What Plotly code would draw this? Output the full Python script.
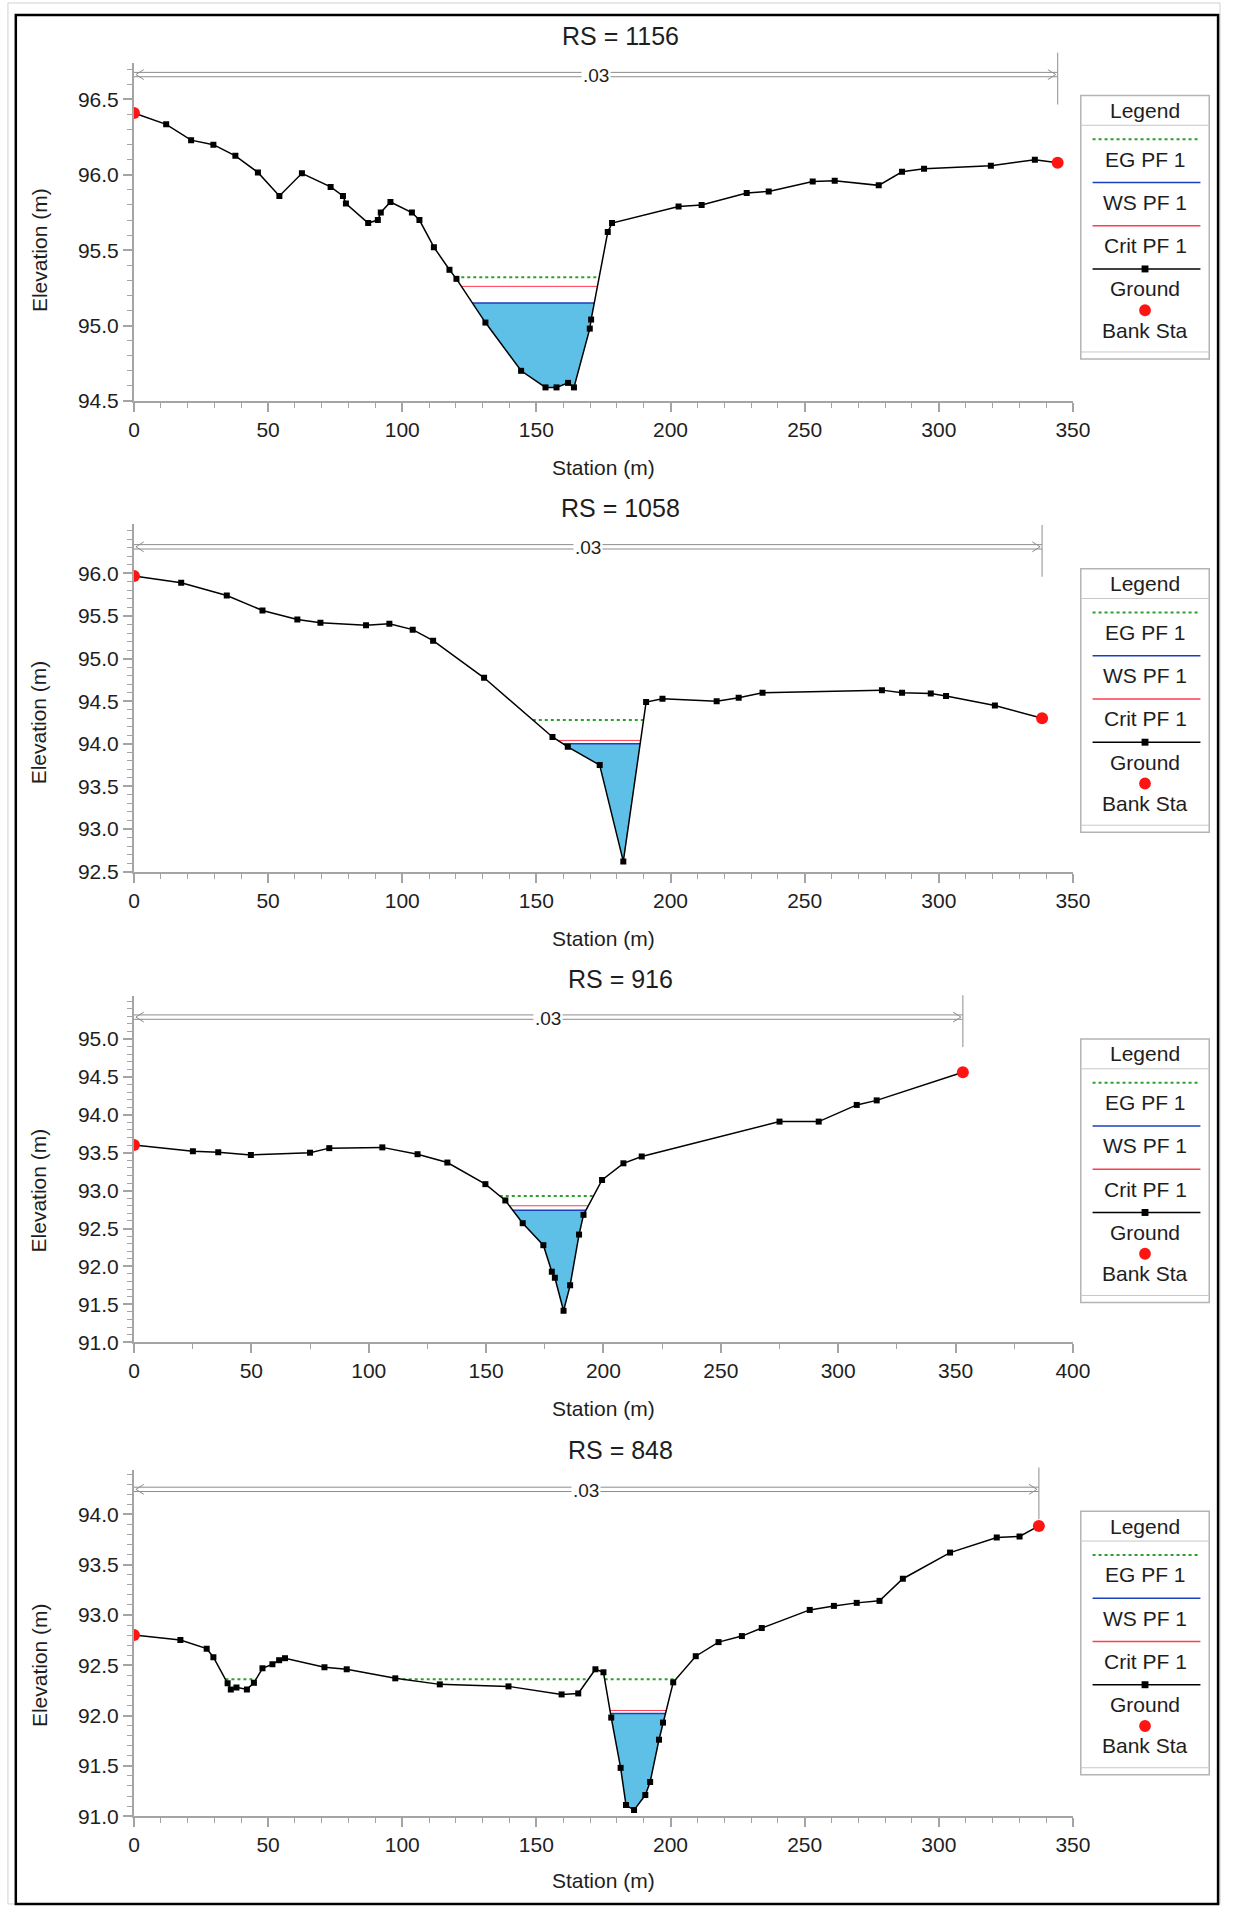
import plotly.graph_objects as go
import numpy as np

W, H = 1240, 1907
FONT = "Liberation Sans, Arial, sans-serif"
TXT = "#1e1e1e"
AX = "#a4a4a4"

# ---------------- data ----------------
rs_titles = ["RS = 1156", "RS = 1058", "RS = 916", "RS = 848"]

sta_1156 = [0, 12.0, 21.3, 29.6, 37.8, 46.2, 54.2, 62.6, 73.3, 77.9,
            79.0, 87.3, 90.9, 92.0, 95.6, 103.6, 106.4, 111.8, 117.6, 120.2,
            131.0, 144.3, 153.4, 157.5, 161.8, 164.0, 169.9, 170.4, 176.6, 178.2,
            203.0, 211.6, 228.4, 236.6, 253.0, 261.2, 277.6, 286.3, 294.5, 319.4,
            335.8, 344.3]
elev_1156 = [96.41, 96.335, 96.23, 96.20, 96.126, 96.016, 95.86, 96.01, 95.92, 95.86,
             95.81, 95.68, 95.70, 95.75, 95.82, 95.75, 95.70, 95.52, 95.37, 95.31,
             95.02, 94.70, 94.59, 94.59, 94.62, 94.59, 94.98, 95.04, 95.62, 95.68,
             95.79, 95.80, 95.88, 95.89, 95.955, 95.96, 95.93, 96.02, 96.04, 96.06,
             96.10, 96.08]

sta_1058 = [0, 17.6, 34.6, 47.9, 60.9, 69.5, 86.5, 95.2, 103.9, 111.5,
            130.5, 156.0, 161.7, 173.6, 182.4, 190.9, 197.0, 217.2, 225.4, 234.3,
            278.8, 286.3, 297.0, 302.7, 320.9, 338.5]
elev_1058 = [95.97, 95.89, 95.74, 95.565, 95.46, 95.42, 95.39, 95.41, 95.34, 95.21,
             94.775, 94.08, 93.965, 93.75, 92.62, 94.49, 94.53, 94.50, 94.54, 94.60,
             94.63, 94.60, 94.59, 94.56, 94.45, 94.30]

sta_916 = [0, 25.1, 35.9, 49.8, 75.0, 83.2, 105.8, 120.8, 133.5, 149.7,
           158.2, 165.6, 174.4, 178.0, 179.3, 183.0, 185.8, 189.6, 191.5, 199.4,
           208.5, 216.3, 275.0, 291.7, 307.9, 316.4, 353.1]
elev_916 = [93.60, 93.52, 93.505, 93.47, 93.50, 93.56, 93.57, 93.48, 93.37, 93.085,
            92.87, 92.57, 92.28, 91.93, 91.85, 91.415, 91.75, 92.42, 92.68, 93.14,
            93.36, 93.45, 93.91, 93.91, 94.13, 94.19, 94.56]

sta_848 = [0, 17.3, 27.1, 29.6, 34.9, 36.1, 38.2, 42.1, 44.7, 47.9,
           51.6, 54.1, 56.3, 71.0, 79.3, 97.4, 114.0, 139.6, 159.4, 165.6,
           172.0, 175.0, 177.9, 181.4, 183.4, 186.4, 190.6, 192.4, 195.7, 197.2,
           201.0, 209.4, 217.9, 226.6, 234.0, 251.9, 260.9, 269.4, 277.9, 286.6,
           304.2, 321.6, 330.1, 337.3]
elev_848 = [92.80, 92.75, 92.665, 92.58, 92.32, 92.26, 92.28, 92.26, 92.325, 92.47,
            92.51, 92.55, 92.57, 92.48, 92.46, 92.37, 92.31, 92.29, 92.21, 92.22,
            92.46, 92.43, 91.98, 91.48, 91.11, 91.06, 91.21, 91.34, 91.76, 91.93,
            92.33, 92.59, 92.73, 92.79, 92.87, 93.05, 93.09, 93.12, 93.14, 93.36,
            93.62, 93.77, 93.78, 93.885]

bank_1156 = [0, 344.3]
bank_1058 = [0, 338.5]
bank_916 = [0, 353.1]
bank_848 = [0, 337.3]

ws_levels = [95.15, 94.00, 92.74, 92.02]
eg_levels = [95.32, 94.28, 92.93, 92.36]
crit_levels = [95.26, 94.04, 92.80, 92.05]
mann_n = [0.03, 0.03, 0.03, 0.03]

x_ticks_350 = [0, 50, 100, 150, 200, 250, 300, 350]
x_ticks_400 = [0, 50, 100, 150, 200, 250, 300, 350, 400]
y_ticks_1156 = [94.5, 95.0, 95.5, 96.0, 96.5]
y_ticks_1058 = [92.5, 93.0, 93.5, 94.0, 94.5, 95.0, 95.5, 96.0]
y_ticks_916 = [91.0, 91.5, 92.0, 92.5, 93.0, 93.5, 94.0, 94.5, 95.0]
y_ticks_848 = [91.0, 91.5, 92.0, 92.5, 93.0, 93.5, 94.0]

legend_labels = ["EG PF 1", "WS PF 1", "Crit PF 1", "Ground", "Bank Sta"]

stations = [sta_1156, sta_1058, sta_916, sta_848]
elevs = [elev_1156, elev_1058, elev_916, elev_848]
banks = [bank_1156, bank_1058, bank_916, bank_848]
xticks = [x_ticks_350, x_ticks_350, x_ticks_400, x_ticks_350]
yticks = [y_ticks_1156, y_ticks_1058, y_ticks_916, y_ticks_848]

# ---------------- layout (pixel geometry) ----------------
X0, X1 = 130.5, 1088.0
panels = [
    dict(top=63, bottom=403.3, ymin=94.5, ymax=96.744, xmax=350, xminor=10,
         bar=75, title_y=36.5, station_y=470, legend_top=96),
    dict(top=527, bottom=876.7, ymin=92.5, ymax=96.58, xmax=350, xminor=10,
         bar=550, title_y=511, station_y=944, legend_top=572),
    dict(top=1001.7, bottom=1350, ymin=91.0, ymax=95.568, xmax=400, xminor=25,
         bar=1023, title_y=985, station_y=1416.5, legend_top=1045),
    dict(top=1478.3, bottom=1826.7, ymin=91.0, ymax=94.443, xmax=350, xminor=10,
         bar=1498, title_y=1458, station_y=1891.5, legend_top=1520),
]

C_GROUND = "#000000"
C_BANK = "#ff1414"
C_WS = "#1a3fbf"
C_FILL = "#5ec0e6"
C_EG = "#2f9f2f"
C_CRIT = "#ff3c50"


def pxx(p):
    return p / W


def pyy(p):
    return 1 - p / H


def wet_intervals(sta, z, level):
    out, cur = [], None
    for i in range(len(sta)):
        if z[i] < level:
            if cur is None:
                if i == 0:
                    xs = sta[0]
                else:
                    t = (level - z[i - 1]) / (z[i] - z[i - 1])
                    xs = sta[i - 1] + t * (sta[i] - sta[i - 1])
                cur = [(xs, level)]
            cur.append((sta[i], z[i]))
        elif cur is not None:
            t = (level - z[i - 1]) / (z[i] - z[i - 1])
            xe = sta[i - 1] + t * (sta[i] - sta[i - 1])
            cur.append((xe, level))
            out.append(cur)
            cur = None
    if cur is not None:
        cur.append((sta[-1], level))
        out.append(cur)
    return out


def level_line(sta, z, level):
    xs, ys = [], []
    for seg in wet_intervals(sta, z, level):
        xs += [seg[0][0], seg[-1][0], None]
        ys += [level, level, None]
    return xs, ys


fig = go.Figure()
shapes, annos = [], []

for i in range(4):
    cfg = panels[i]
    sfx = "" if i == 0 else str(i + 1)
    xa, ya = "x" + sfx, "y" + sfx
    sta, z = stations[i], elevs[i]

    def col_px(s, cfg=cfg):
        return X0 + s / cfg["xmax"] * (X1 - X0)

    def row_px(v, cfg=cfg):
        return cfg["bottom"] - (v - cfg["ymin"]) / (cfg["ymax"] - cfg["ymin"]) * (cfg["bottom"] - cfg["top"])

    # water fill
    for seg in wet_intervals(sta, z, ws_levels[i]):
        fx = [p[0] for p in seg] + [seg[0][0]]
        fy = [p[1] for p in seg] + [seg[0][1]]
        fig.add_trace(go.Scatter(x=fx, y=fy, xaxis=xa, yaxis=ya, mode="lines",
                                 fill="toself", fillcolor=C_FILL,
                                 line=dict(width=0), hoverinfo="skip", showlegend=False))
    lx, ly = level_line(sta, z, ws_levels[i])
    fig.add_trace(go.Scatter(x=lx, y=ly, xaxis=xa, yaxis=ya, mode="lines",
                             line=dict(color=C_WS, width=1.6), showlegend=False))
    lx, ly = level_line(sta, z, crit_levels[i])
    fig.add_trace(go.Scatter(x=lx, y=ly, xaxis=xa, yaxis=ya, mode="lines",
                             line=dict(color=C_CRIT, width=1), showlegend=False))
    lx, ly = level_line(sta, z, eg_levels[i])
    fig.add_trace(go.Scatter(x=lx, y=ly, xaxis=xa, yaxis=ya, mode="lines",
                             line=dict(color=C_EG, width=2, dash="dot"), showlegend=False))
    # ground
    fig.add_trace(go.Scatter(x=sta, y=z, xaxis=xa, yaxis=ya, mode="lines+markers",
                             line=dict(color=C_GROUND, width=1.5),
                             marker=dict(symbol="square", size=6, color=C_GROUND),
                             showlegend=False))
    # bank stations
    bz = list(np.interp(banks[i], sta, z))
    fig.add_trace(go.Scatter(x=banks[i], y=bz, xaxis=xa, yaxis=ya, mode="markers",
                             marker=dict(symbol="circle", size=12, color=C_BANK, line=dict(width=0)),
                             showlegend=False))

    fig.layout["xaxis" + sfx] = dict(
        domain=[pxx(X0), pxx(X1)], range=[0, cfg["xmax"]], anchor=ya,
        showline=True, linecolor=AX, linewidth=2, ticks="outside", ticklen=9,
        tickwidth=1.5, tickcolor=AX, tickmode="array", tickvals=xticks[i],
        ticktext=[str(v) for v in xticks[i]], tickfont=dict(size=21, family=FONT, color=TXT),
        showgrid=False, zeroline=False,
        minor=dict(tickmode="linear", tick0=0, dtick=cfg["xminor"], ticklen=5,
                   tickcolor=AX, tickwidth=1, showgrid=False))
    fig.layout["yaxis" + sfx] = dict(
        domain=[pyy(cfg["bottom"]), pyy(cfg["top"])], range=[cfg["ymin"], cfg["ymax"]],
        anchor=xa, showline=True, linecolor=AX, linewidth=2, ticks="outside", ticklen=9,
        tickwidth=1.5, tickcolor=AX, tickmode="array", tickvals=yticks[i],
        ticktext=[f"{v:.1f}" for v in yticks[i]], tickfont=dict(size=21, family=FONT, color=TXT),
        showgrid=False, zeroline=False,
        minor=dict(tickmode="linear", tick0=0, dtick=0.1, ticklen=5,
                   tickcolor=AX, tickwidth=1, showgrid=False))

    # titles
    annos.append(dict(text=rs_titles[i], x=pxx(627), y=pyy(cfg["title_y"]), xref="paper",
                      yref="paper", xanchor="center", yanchor="middle", showarrow=False,
                      font=dict(size=25, family=FONT, color=TXT)))
    annos.append(dict(text="Station (m)", x=pxx((X0 + X1) / 2), y=pyy(cfg["station_y"]),
                      xref="paper", yref="paper", xanchor="center", yanchor="middle",
                      showarrow=False, font=dict(size=21, family=FONT, color=TXT)))
    ymid = (row_px(yticks[i][0]) + row_px(yticks[i][-1])) / 2
    annos.append(dict(text="Elevation (m)", x=pxx(33.5), y=pyy(ymid), xref="paper",
                      yref="paper", xanchor="center", yanchor="middle", textangle=-90,
                      showarrow=False, font=dict(size=21, family=FONT, color=TXT)))

    # Manning's n bar
    bl, br = col_px(banks[i][0]), col_px(banks[i][1])
    b = cfg["bar"]
    for off in (-2.2, 2.2):
        shapes.append(dict(type="line", xref="paper", yref="paper", x0=pxx(bl), x1=pxx(br),
                           y0=pyy(b + off), y1=pyy(b + off), line=dict(color="#8c8c8c", width=1)))
    shapes.append(dict(type="line", xref="paper", yref="paper", x0=pxx(br), x1=pxx(br),
                       y0=pyy(b - 22), y1=pyy(b + 30), line=dict(color="#a0a0a0", width=1.2)))
    shapes.append(dict(type="path", xref="paper", yref="paper",
                       path=f"M {pxx(bl + 10)} {pyy(b - 5)} L {pxx(bl + 2)} {pyy(b)} L {pxx(bl + 10)} {pyy(b + 5)}",
                       line=dict(color="#8c8c8c", width=1)))
    shapes.append(dict(type="path", xref="paper", yref="paper",
                       path=f"M {pxx(br - 10)} {pyy(b - 5)} L {pxx(br - 2)} {pyy(b)} L {pxx(br - 10)} {pyy(b + 5)}",
                       line=dict(color="#8c8c8c", width=1)))
    annos.append(dict(text=f"{mann_n[i]:.2f}".lstrip("0"), x=pxx((bl + br) / 2), y=pyy(b + 1),
                      xref="paper", yref="paper", xanchor="center", yanchor="middle",
                      showarrow=False, bgcolor="white", borderpad=1,
                      font=dict(size=19, family=FONT, color=TXT)))

    # legend box
    T = cfg["legend_top"]
    LX0, LX1 = 1096, 1227
    LC = (LX0 + LX1) / 2
    shapes.append(dict(type="rect", xref="paper", yref="paper", x0=pxx(LX0), x1=pxx(LX1),
                       y0=pyy(T), y1=pyy(T + 265), line=dict(color="#b4b4b4", width=1.5)))
    shapes.append(dict(type="line", xref="paper", yref="paper", x0=pxx(LX0), x1=pxx(LX1),
                       y0=pyy(T + 30), y1=pyy(T + 30), line=dict(color="#c8c8c8", width=1)))
    shapes.append(dict(type="line", xref="paper", yref="paper", x0=pxx(LX0), x1=pxx(LX1),
                       y0=pyy(T + 258), y1=pyy(T + 258), line=dict(color="#c8c8c8", width=1)))
    annos.append(dict(text="Legend", x=pxx(LC), y=pyy(T + 15), xref="paper", yref="paper",
                      xanchor="center", yanchor="middle", showarrow=False,
                      font=dict(size=21, family=FONT, color=TXT)))
    samples = [(C_EG, "dot", 2), (C_WS, "solid", 1.6), (C_CRIT, "solid", 1.4), (C_GROUND, "solid", 1.5)]
    for k, (c, d, wd) in enumerate(samples):
        yl = T + 44 + k * 43.5
        shapes.append(dict(type="line", xref="paper", yref="paper", x0=pxx(1108), x1=pxx(1218),
                           y0=pyy(yl), y1=pyy(yl), line=dict(color=c, width=wd, dash=d)))
        annos.append(dict(text=legend_labels[k], x=pxx(LC), y=pyy(yl + 20), xref="paper",
                          yref="paper", xanchor="center", yanchor="middle", showarrow=False,
                          font=dict(size=21, family=FONT, color=TXT)))
    yg = T + 44 + 3 * 43.5
    shapes.append(dict(type="rect", xref="paper", yref="paper", x0=pxx(LC - 3.5), x1=pxx(LC + 3.5),
                       y0=pyy(yg - 3.5), y1=pyy(yg + 3.5), fillcolor=C_GROUND, line=dict(width=0)))
    yb = T + 216
    shapes.append(dict(type="circle", xref="paper", yref="paper", x0=pxx(LC - 6), x1=pxx(LC + 6),
                       y0=pyy(yb - 6), y1=pyy(yb + 6), fillcolor=C_BANK, line=dict(width=0)))
    annos.append(dict(text=legend_labels[4], x=pxx(LC), y=pyy(T + 236), xref="paper",
                      yref="paper", xanchor="center", yanchor="middle", showarrow=False,
                      font=dict(size=21, family=FONT, color=TXT)))

# outer frames
shapes.append(dict(type="rect", xref="paper", yref="paper", x0=pxx(2), x1=pxx(1238),
                   y0=pyy(3), y1=pyy(1915), line=dict(color="#d0d0d0", width=1)))
shapes.append(dict(type="rect", xref="paper", yref="paper", x0=pxx(10), x1=pxx(1236),
                   y0=pyy(15), y1=pyy(1915), line=dict(color="#000000", width=2.5)))

fig.update_layout(width=W, height=H, margin=dict(l=0, r=0, t=0, b=0),
                  paper_bgcolor="white", plot_bgcolor="white", showlegend=False,
                  shapes=shapes, annotations=annos, font=dict(family=FONT, color=TXT))

fig.write_html("out.html")
